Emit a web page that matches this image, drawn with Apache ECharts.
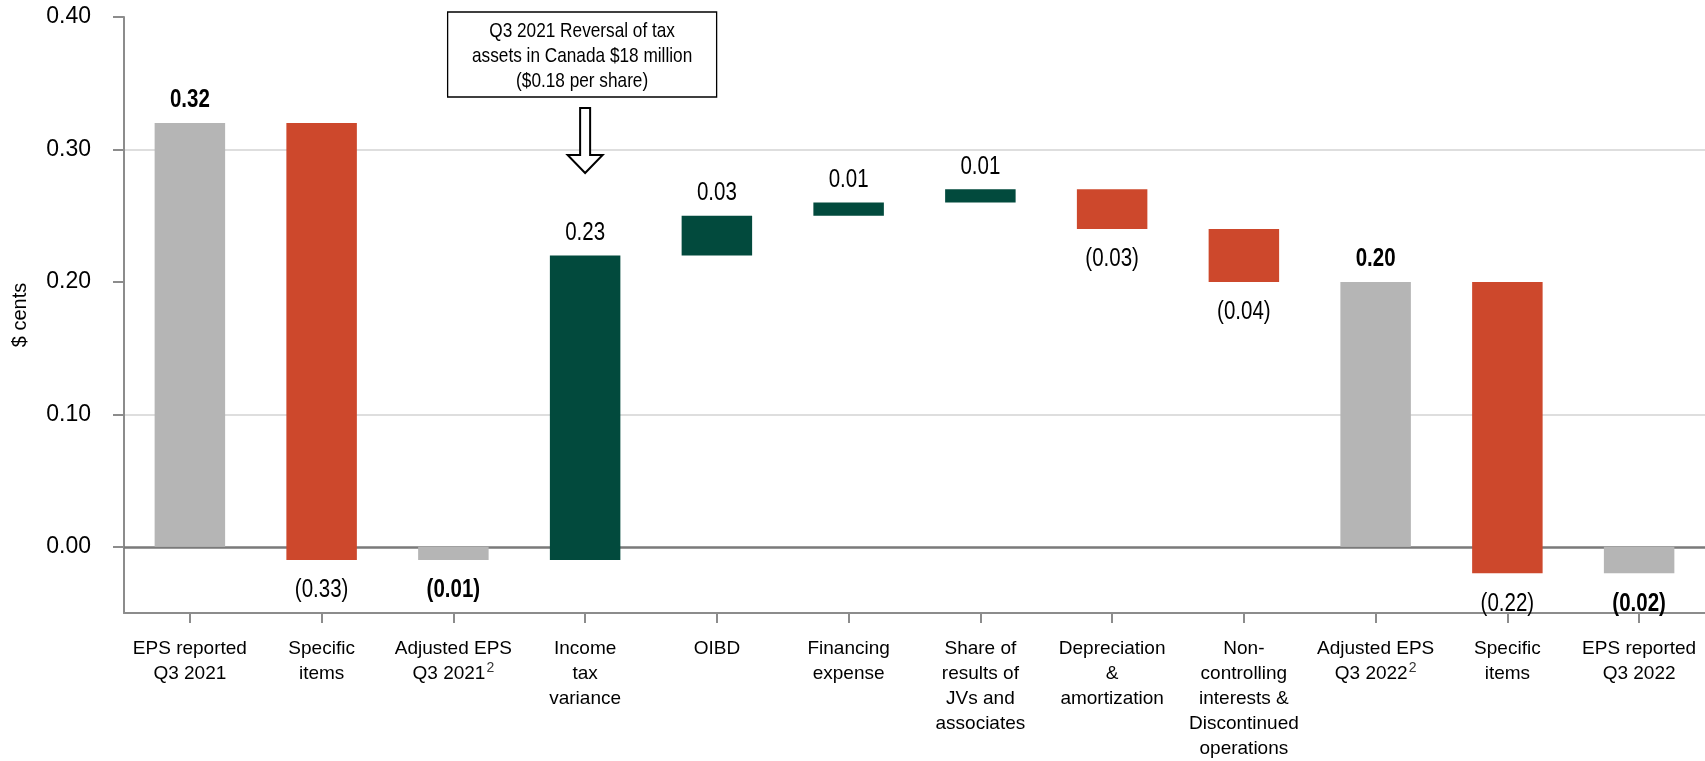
<!DOCTYPE html>
<html>
<head>
<meta charset="utf-8">
<script src="https://cdn.jsdelivr.net/npm/echarts@6/dist/echarts.min.js"></script>
<style>
  html, body { margin: 0; padding: 0; background: #fff; }
  #chart { width: 1705px; height: 761px; }
</style>
</head>
<body>
<div id="chart"></div>
<script>
// EPS bridge, Q3 2021 -> Q3 2022 ($ per share)
const categories = [
  'EPS reported\nQ3 2021',
  'Specific\nitems',
  'Adjusted EPS\nQ3 2021',
  'Income\ntax\nvariance',
  'OIBD',
  'Financing\nexpense',
  'Share of\nresults of\nJVs and\nassociates',
  'Depreciation\n&\namortization',
  'Non-\ncontrolling\ninterests &\nDiscontinued\noperations',
  'Adjusted EPS\nQ3 2022',
  'Specific\nitems',
  'EPS reported\nQ3 2022'
];
// footnote marks appended to category labels
const footnotes = ['', '', '2', '', '', '', '', '', '', '2', '', ''];
// 'total' bars start at zero, 'change' bars float on the running total
const barKinds = ['total', 'change', 'total', 'change', 'change', 'change', 'change', 'change', 'change', 'total', 'change', 'total'];
const amounts = [0.32, -0.33, -0.01, 0.23, 0.03, 0.01, 0.01, -0.03, -0.04, 0.20, -0.22, -0.02];
const yTickValues = [0, 0.1, 0.2, 0.3, 0.4];
const annotationLines = ['Q3 2021 Reversal of tax', 'assets in Canada $18 million', '($0.18 per share)'];
const annotatedIndex = 3;

const FONT = '"Liberation Sans", Arial, sans-serif';
const NARROW = 0.82;   // horizontal squeeze for a narrow face
const COLORS = { total: '#b5b5b5', up: '#024a3d', down: '#cd482c' };

const r2 = v => Math.round(v * 100) / 100;
let running = 0;
const bars = amounts.map((amt, i) => {
  let lo, hi;
  if (barKinds[i] === 'total') {
    running = amt;
    lo = Math.min(0, amt); hi = Math.max(0, amt);
  } else {
    const next = r2(running + amt);
    lo = Math.min(running, next); hi = Math.max(running, next);
    running = next;
  }
  return [i, lo, hi];
});
const fmt = v => v < 0 ? '(' + Math.abs(v).toFixed(2) + ')' : v.toFixed(2);

const chart = echarts.init(document.getElementById('chart'), null, { renderer: 'canvas' });

chart.setOption({
  animation: false,
  backgroundColor: '#fff',
  grid: { left: 124, right: -2, top: 17, bottom: 143 },
  xAxis: [{
    type: 'category',
    data: categories,
    position: 'bottom',
    boundaryGap: true,
    axisLine: { onZero: false, lineStyle: { color: '#8c8c8c', width: 2 } },
    axisTick: { show: true, alignWithLabel: true, length: 10, lineStyle: { color: '#8c8c8c', width: 2 } },
    axisLabel: {
      interval: 0,
      margin: 23,
      color: '#000',
      fontFamily: FONT,
      fontSize: 19,
      lineHeight: 25,
      formatter: (v, i) => footnotes[i] ? v + '{sup|' + footnotes[i] + '}' : v,
      rich: { sup: { fontFamily: FONT, fontSize: 14, color: '#333', padding: [0, 0, 10, 1] } }
    },
    splitLine: { show: false }
  }, {
    // zero baseline
    type: 'category',
    data: categories,
    position: 'top',
    axisLine: { onZero: true, lineStyle: { color: '#7a7a7a', width: 2.5 } },
    axisTick: { show: false },
    axisLabel: { show: false },
    splitLine: { show: false }
  }],
  yAxis: {
    type: 'value',
    min: -0.05,
    max: 0.4,
    interval: 0.05,
    name: '$ cents',
    nameLocation: 'middle',
    nameRotate: 90,
    nameGap: 94,
    nameTextStyle: { color: '#000', fontFamily: FONT, fontSize: 20 },
    axisLine: { show: true, lineStyle: { color: '#8c8c8c', width: 2 } },
    axisTick: { show: true, length: 11, customValues: yTickValues, lineStyle: { color: '#8c8c8c', width: 2 } },
    axisLabel: {
      customValues: yTickValues,
      formatter: v => v.toFixed(2),
      margin: 33,
      color: '#000',
      fontFamily: FONT,
      fontSize: 23
    },
    splitLine: { show: true, lineStyle: { color: ['transparent', '#dedede'], width: 2 } }
  },
  series: [{
    type: 'custom',
    z: 3,
    encode: { x: 0, y: [1, 2] },
    data: bars,
    renderItem: (params, api) => {
      const i = params.dataIndex;
      const lo = api.value(1), hi = api.value(2);
      const pHi = api.coord([api.value(0), hi]);
      const pLo = api.coord([api.value(0), lo]);
      const w = api.size([1, 0])[0] * 0.535;
      const amt = amounts[i];
      const isTotal = barKinds[i] === 'total';
      const fill = isTotal ? COLORS.total : (amt >= 0 ? COLORS.up : COLORS.down);
      const positive = amt >= 0;
      return {
        type: 'group',
        children: [{
          type: 'rect',
          shape: { x: pHi[0] - w / 2, y: pHi[1], width: w, height: Math.max(1, pLo[1] - pHi[1]) },
          style: { fill: fill }
        }, {
          type: 'text',
          x: pHi[0],
          y: positive ? pHi[1] - 10 : pLo[1] + 18,
          scaleX: NARROW,
          style: {
            text: fmt(amt),
            align: 'center',
            verticalAlign: positive ? 'bottom' : 'top',
            fontFamily: FONT,
            fontSize: 25,
            fontWeight: isTotal ? 'bold' : 'normal',
            fill: '#000'
          }
        }]
      };
    }
  }]
});

// callout box with a hollow arrow over the income tax bar
const cx = chart.convertToPixel({ xAxisIndex: 0 }, annotatedIndex);
const boxW = 269, boxH = 85, boxTop = 12;
const shaftW = 10, headW = 35, shaftTop = 108, headTop = 155, tip = 173;
chart.setOption({
  graphic: [{
    type: 'rect',
    shape: { x: cx - boxW / 2 - 3, y: boxTop, width: boxW, height: boxH },
    style: { fill: '#fff', stroke: '#000', lineWidth: 1.3 },
    z: 10
  }, {
    type: 'text',
    x: cx - 3,
    y: boxTop + boxH / 2 + 2,
    scaleX: NARROW,
    style: {
      text: annotationLines.join('\n'),
      align: 'center',
      verticalAlign: 'middle',
      fontFamily: FONT,
      fontSize: 21,
      lineHeight: 25,
      fill: '#000'
    },
    z: 11
  }, {
    type: 'polygon',
    shape: {
      points: [
        [cx - shaftW / 2, shaftTop], [cx + shaftW / 2, shaftTop], [cx + shaftW / 2, headTop],
        [cx + headW / 2, headTop], [cx, tip], [cx - headW / 2, headTop], [cx - shaftW / 2, headTop]
      ]
    },
    style: { fill: '#fff', stroke: '#000', lineWidth: 2 },
    z: 10
  }]
});
</script>
</body>
</html>
